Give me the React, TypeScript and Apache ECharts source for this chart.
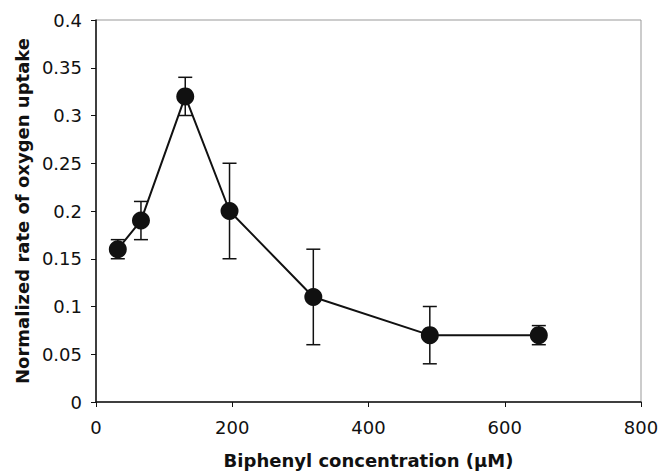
import React, { useEffect, useRef } from "react";
import * as echarts from "echarts";

const concentrations = [32, 66, 131, 196, 319, 490, 650];
const rates = [0.16, 0.19, 0.32, 0.2, 0.11, 0.07, 0.07];
const errors = [0.01, 0.02, 0.02, 0.05, 0.05, 0.03, 0.01];
const xTicks = [0, 200, 400, 600, 800];
const yTicks = [0, 0.05, 0.1, 0.15, 0.2, 0.25, 0.3, 0.35, 0.4];

export default function App() {
  const ref = useRef<HTMLDivElement>(null);
  useEffect(() => {
    if (!ref.current) return;
    const chart = echarts.init(ref.current, null, { renderer: "svg" });
    const font = "DejaVu Sans, sans-serif";
    const lineData = concentrations.map((x, i) => [x, rates[i]]);
    const errData = concentrations.map((x, i) => [x, rates[i] - errors[i], rates[i] + errors[i]]);
    chart.setOption({
      animation: false,
      backgroundColor: "#fff",
      grid: {
        left: 96,
        right: 19,
        top: 20,
        bottom: 71,
        show: true,
        borderColor: "#999",
        borderWidth: 1,
        containLabel: false,
        outerBoundsMode: "none",
      },
      xAxis: {
        type: "value",
        min: xTicks[0],
        max: xTicks[xTicks.length - 1],
        interval: 200,
        name: "Biphenyl concentration (\u03bcM)",
        nameLocation: "middle",
        nameGap: 49,
        nameTextStyle: { fontFamily: font, fontSize: 18, fontWeight: "bold", color: "#111" },
        axisLine: { show: true, lineStyle: { color: "#111", width: 1.5 } },
        axisTick: { show: true, length: 5, lineStyle: { color: "#111" } },
        axisLabel: { fontFamily: font, fontSize: 18, color: "#111", margin: 16 },
        splitLine: { show: false },
      },
      yAxis: {
        type: "value",
        min: yTicks[0],
        max: yTicks[yTicks.length - 1],
        interval: 0.05,
        name: "Normalized rate of oxygen uptake",
        nameLocation: "middle",
        nameGap: 64,
        nameTextStyle: { fontFamily: font, fontSize: 18, fontWeight: "bold", color: "#111" },
        axisLine: { show: true, lineStyle: { color: "#111", width: 1.5 } },
        axisTick: { show: true, length: 5, lineStyle: { color: "#111" } },
        axisLabel: {
          fontFamily: font,
          fontSize: 18,
          color: "#111",
          margin: 14,
          formatter: (v: number) => String(Math.round(v * 100) / 100),
        },
        splitLine: { show: false },
      },
      series: [
        {
          type: "custom",
          data: errData,
          z: 3,
          renderItem: (params: any, api: any) => {
            const x = api.value(0);
            const lo = api.coord([x, api.value(1)]);
            const hi = api.coord([x, api.value(2)]);
            const hw = 7;
            const style = { stroke: "#111", lineWidth: 1.5 };
            return {
              type: "group",
              children: [
                { type: "line", shape: { x1: lo[0], y1: lo[1], x2: hi[0], y2: hi[1] }, style },
                { type: "line", shape: { x1: lo[0] - hw, y1: lo[1], x2: lo[0] + hw, y2: lo[1] }, style },
                { type: "line", shape: { x1: hi[0] - hw, y1: hi[1], x2: hi[0] + hw, y2: hi[1] }, style },
              ],
            };
          },
        },
        {
          type: "line",
          data: lineData,
          z: 4,
          symbol: "circle",
          symbolSize: 18,
          lineStyle: { color: "#111", width: 2 },
          itemStyle: { color: "#111" },
        },
      ],
    });
    return () => chart.dispose();
  }, []);
  return (
    <div
      ref={ref}
      style={{ position: "fixed", left: 0, top: 0, width: 660, height: 473, background: "#fff" }}
    />
  );
}
